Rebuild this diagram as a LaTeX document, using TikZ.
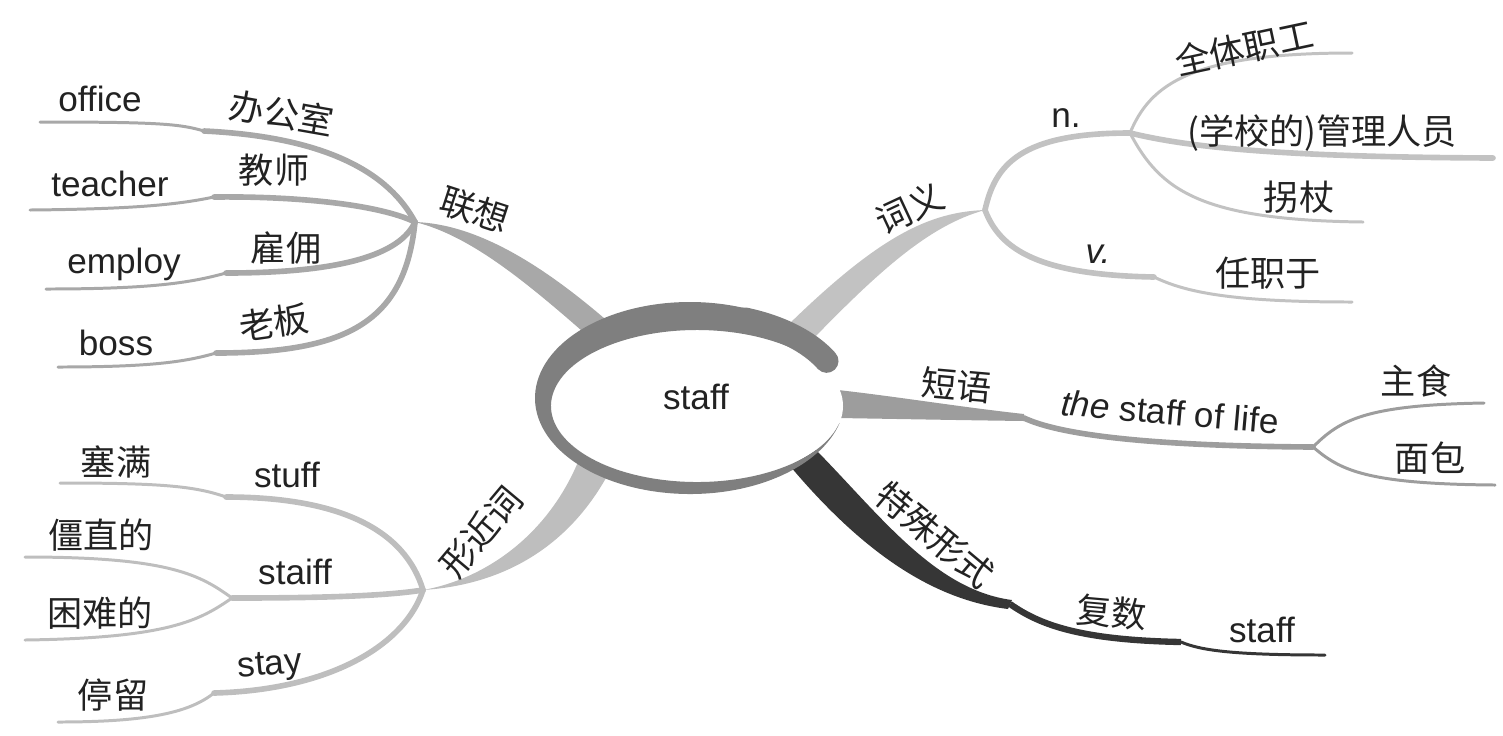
\documentclass[tikz,border=0pt]{standalone}
\usepackage{fontspec}
\setmainfont{Liberation Sans}
\newfontfamily\cjk{Noto Sans CJK SC}
\usepackage{tikz}
\usetikzlibrary{positioning}

\definecolor{ringgray}{HTML}{7F7F7F}
\definecolor{assoc}{HTML}{A8A8A8}
\definecolor{sense}{HTML}{C2C2C2}
\definecolor{phrase}{HTML}{9D9D9D}
\definecolor{special}{HTML}{363636}
\definecolor{lookalike}{HTML}{BEBEBE}
\definecolor{ink}{HTML}{222222}

\begin{document}
\begin{tikzpicture}[
  x=0.2mm, y=-0.2mm,
  font=\fontsize{20}{24}\selectfont,
  limb/.style={line width=3.2pt,line cap=round},
  twig/.style={line width=1.7pt,line cap=round},
  en/.style={text=ink,inner sep=1pt},
  zh/.style={text=ink,font=\fontsize{20}{24}\selectfont\cjk,inner sep=1pt},
]
  \useasboundingbox (0,0) rectangle (1503,735);

  % junctions and kinks
  \coordinate (assocJ)   at (415,222);
  \coordinate (senseJ)   at (985,210);
  \coordinate (nounJ)    at (1130,133);
  \coordinate (phraseK)  at (1024,418);
  \coordinate (phraseJ)  at (1313,447);
  \coordinate (specK)    at (1010,604);
  \coordinate (pluralK)  at (1181,642);
  \coordinate (nearJ)    at (423,590);
  \coordinate (staiffJ)  at (232,598);
  \coordinate (officeK)  at (204,131);
  \coordinate (teacherK) at (214,197);
  \coordinate (employK)  at (226,273);
  \coordinate (bossK)    at (216,353);
  \coordinate (verbK)    at (1154,277);
  \coordinate (stuffK)   at (226,497);
  \coordinate (stayK)    at (214,693);
  % free ends
  \coordinate (officeE)  at (40,122);
  \coordinate (teacherE) at (30,210);
  \coordinate (employE)  at (46,289);
  \coordinate (bossE)    at (58,367);
  \coordinate (allE)     at (1352,53);
  \coordinate (adminE)   at (1493,158);
  \coordinate (caneE)    at (1363,222);
  \coordinate (verbE)    at (1352,302);
  \coordinate (foodE)    at (1484,403);
  \coordinate (breadE)   at (1495,485);
  \coordinate (pluralE)  at (1325,655);
  \coordinate (stuffE)   at (60,483);
  \coordinate (stiffE)   at (25,557);
  \coordinate (hardE)    at (25,640);
  \coordinate (stayE)    at (58,722);

  % main limbs (tapered)
  \fill[assoc] (assocJ) .. controls (475,224) and (540,262) .. (612,325)
        -- (598,345) .. controls (530,285) and (472,236) .. (assocJ) -- cycle;
  \fill[sense] (senseJ) .. controls (930,212) and (880,235) .. (787,326)
        -- (812,340) .. controls (880,270) and (930,225) .. (senseJ) -- cycle;
  \fill[phrase] (838,390) .. controls (900,397) and (960,407) .. (1024,414)
        -- (1024,421) .. controls (950,420) and (900,419) .. (838,418) -- cycle;
  \fill[special] (816,450) .. controls (880,515) and (935,590) .. (1012,600)
        -- (1008,609) .. controls (935,600) and (865,555) .. (790,466) -- cycle;
  \fill[lookalike] (nearJ) .. controls (480,580) and (545,540) .. (578,462)
        -- (606,478) .. controls (565,550) and (500,585) .. (nearJ) -- cycle;

  % association twigs
  \draw[assoc,limb] (assocJ) .. controls (390,175) and (330,137) .. (officeK);
  \draw[assoc,twig] (officeK) .. controls (180,124) and (160,122) .. (officeE);
  \draw[assoc,limb] (assocJ) .. controls (380,205) and (300,196) .. (teacherK);
  \draw[assoc,twig] (teacherK) .. controls (180,204) and (140,209) .. (teacherE);
  \draw[assoc,limb] (assocJ) .. controls (400,255) and (340,273) .. (employK);
  \draw[assoc,twig] (employK) .. controls (190,283) and (150,289) .. (employE);
  \draw[assoc,limb] (assocJ) .. controls (405,320) and (350,353) .. (bossK);
  \draw[assoc,twig] (bossK) .. controls (185,362) and (150,367) .. (bossE);

  % meaning twigs
  \draw[sense,limb] (senseJ) .. controls (995,165) and (1020,133) .. (nounJ);
  \draw[sense,limb] (senseJ) .. controls (1000,250) and (1040,275) .. (verbK);
  \draw[sense,twig] (verbK) .. controls (1185,292) and (1230,302) .. (verbE);
  \draw[sense,twig] (nounJ) .. controls (1150,85) and (1190,53) .. (allE);
  \draw[sense,limb] (nounJ) .. controls (1180,145) and (1260,157) .. (adminE);
  \draw[sense,twig] (nounJ) .. controls (1160,190) and (1200,220) .. (caneE);

  % phrase twigs
  \draw[phrase,limb] (phraseK) .. controls (1060,435) and (1150,446) .. (phraseJ);
  \draw[phrase,twig] (phraseJ) .. controls (1340,420) and (1365,405) .. (foodE);
  \draw[phrase,twig] (phraseJ) .. controls (1340,470) and (1365,484) .. (breadE);

  % special form twigs
  \draw[special,line width=3.6pt] (specK) .. controls (1040,625) and (1080,640) .. (pluralK);
  \draw[special,twig] (pluralK) .. controls (1200,650) and (1230,655) .. (pluralE);

  % look-alike twigs
  \draw[lookalike,limb] (nearJ) .. controls (405,530) and (340,497) .. (stuffK);
  \draw[lookalike,twig] (stuffK) .. controls (195,486) and (160,483) .. (stuffE);
  \draw[lookalike,limb] (nearJ) .. controls (380,597) and (300,598) .. (staiffJ);
  \draw[lookalike,twig] (staiffJ) .. controls (200,575) and (170,557) .. (stiffE);
  \draw[lookalike,twig] (staiffJ) .. controls (200,620) and (170,638) .. (hardE);
  \draw[lookalike,limb] (nearJ) .. controls (405,645) and (330,690) .. (stayK);
  \draw[lookalike,twig] (stayK) .. controls (190,712) and (150,722) .. (stayE);

  % centre ring
  \coordinate (ringO) at (690,398);
  \coordinate (ringI) at (697,406);
  \coordinate (ringM) at (693,400);
  \fill[white] (ringI) ellipse[x radius=146, y radius=76];
  \fill[ringgray] (ringO) ++(-35:155 and 96)
        arc[start angle=-35, end angle=-345, x radius=155, y radius=96]
        -- ([shift={(-345:146 and 76)}]ringI)
        arc[start angle=-345, end angle=-35, x radius=146, y radius=76] -- cycle;
  \draw[ringgray,line width=13.5pt,line cap=round] (ringM) ++(-27:150 and 86)
        arc[start angle=-27, end angle=-70, x radius=150, y radius=86];
  \node[en] (staff) at (696,397) {staff};

  % labels
  \node[zh,rotate=-18] (assocL) at (475,210) {联想};
  \node[en] (officeEn)  at (100,99)  {office};
  \node[zh,rotate=-10] (officeCn) at (282,113) {办公室};
  \node[en] (teacherEn) at (110,184) {teacher};
  \node[zh] (teacherCn) at (274,170) {教师};
  \node[en] (employEn)  at (124,264) {employ};
  \node[zh] (employCn)  at (286,248) {雇佣};
  \node[en] (bossEn)    at (116,343) {boss};
  \node[zh,rotate=8] (bossCn) at (274,322) {老板};

  \node[zh,rotate=25] (senseL) at (910,208) {词义};
  \node[en] (nounL) at (1066,118) {n.};
  \node[en] (verbL) at (1098,254) {\itshape v.};
  \node[zh,rotate=12] (allCn) at (1244,48) {全体职工};
  \node[zh] (adminCn) at (1322,133) {(学校的)管理人员};
  \node[zh] (caneCn)  at (1299,197) {拐杖};
  \node[zh] (verbCn)  at (1268,273) {任职于};

  \node[zh,rotate=-5] (phraseL) at (957,385) {短语};
  \node[en,rotate=-5] (lifeEn) at (1170,412) {{\itshape the} staff of life};
  \node[zh] (foodCn)  at (1416,381) {主食};
  \node[zh] (breadCn) at (1430,458) {面包};

  \node[zh,rotate=-40] (specL) at (935,535) {特殊形式};
  \node[zh,rotate=-5] (pluralCn) at (1112,612) {复数};
  \node[en] (pluralEn) at (1262,630) {staff};

  \node[zh,rotate=50] (nearL) at (481,532) {形近词};
  \node[zh] (stuffCn)  at (116,462) {塞满};
  \node[en] (stuffEn)  at (287,475) {stuff};
  \node[zh] (stiffCn)  at (101,535) {僵直的};
  \node[en] (staiffEn) at (295,572) {staiff};
  \node[zh] (hardCn)   at (100,613) {困难的};
  \node[en,rotate=5] (stayEn) at (270,667) {stay};
  \node[zh] (stayCn)   at (113,695) {停留};
\end{tikzpicture}
\end{document}
